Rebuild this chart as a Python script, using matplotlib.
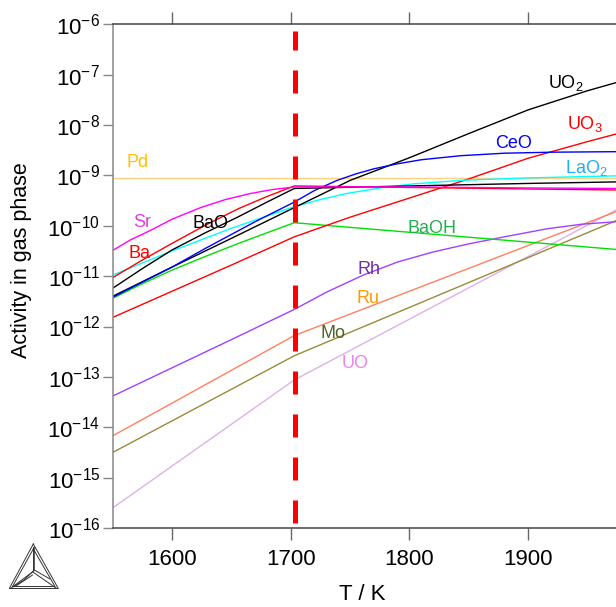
import matplotlib
matplotlib.use('Agg')
import matplotlib.pyplot as plt
from matplotlib.lines import Line2D

plt.rcParams['font.family'] = ['Liberation Sans', 'DejaVu Sans']
plt.rcParams['mathtext.fontset'] = 'custom'
plt.rcParams['mathtext.rm'] = 'Liberation Sans'
plt.rcParams['mathtext.it'] = 'Liberation Sans:italic'
plt.rcParams['mathtext.bf'] = 'Liberation Sans:bold'

# Temperature of the vertical marker line (K)
T_REF = 1703.5

# Temperature (K) and log10 of the activity
T_pd = [1550, 1974]
Pd = [-9.06, -9.06]

T_sr = [1550, 1565, 1582, 1600, 1624, 1645, 1666, 1685, 1703, 1800, 1900, 1974]
Sr = [-10.49, -10.28, -10.09, -9.87, -9.64, -9.48, -9.36, -9.28, -9.23, -9.23, -9.25, -9.26]

T_ba = [1550, 1575, 1600, 1628, 1656, 1680, 1703, 1800, 1900, 1974]
Ba = [-11.03, -10.68, -10.35, -9.99, -9.66, -9.42, -9.21, -9.24, -9.27, -9.29]

T_bao = [1550, 1575, 1600, 1628, 1656, 1680, 1703, 1800, 1900, 1974]
BaO = [-11.24, -10.85, -10.48, -10.14, -9.82, -9.53, -9.26, -9.21, -9.16, -9.13]

T_lao2 = [1550, 1600, 1650, 1703, 1725, 1747, 1775, 1803, 1843, 1900, 1974]
LaO2 = [-10.98, -10.50, -10.05, -9.62, -9.48, -9.36, -9.25, -9.17, -9.10, -9.05, -9.01]

T_ceo = [1550, 1600, 1628, 1670, 1703, 1720, 1739, 1755, 1770, 1790, 1810, 1843, 1880, 1920, 1974]
CeO = [-11.42, -10.82, -10.45, -9.92, -9.53, -9.30, -9.10, -8.97, -8.87, -8.77, -8.69,
       -8.61, -8.56, -8.54, -8.53]

T_uo2 = [1550, 1600, 1650, 1703, 1750, 1800, 1850, 1900, 1950, 1974]
UO2 = [-11.40, -10.82, -10.25, -9.64, -9.10, -8.65, -8.17, -7.70, -7.32, -7.16]

T_uo3 = [1550, 1600, 1650, 1703, 1750, 1800, 1850, 1900, 1950, 1974]
UO3 = [-11.82, -11.30, -10.78, -10.22, -9.83, -9.45, -9.07, -8.66, -8.33, -8.18]

T_baoh = [1550, 1575, 1600, 1628, 1656, 1680, 1703, 1974]
BaOH = [-11.44, -11.15, -10.88, -10.61, -10.35, -10.14, -9.94, -10.47]

T_rh = [1550, 1600, 1650, 1703, 1730, 1761, 1790, 1820, 1850, 1880, 1916, 1945, 1974]
Rh = [-13.38, -12.82, -12.26, -11.66, -11.32, -10.98, -10.72, -10.52, -10.36, -10.22,
      -10.06, -9.97, -9.92]

T_ru = [1550, 1703, 1974]
Ru = [-14.17, -12.18, -9.72]

T_mo = [1550, 1703, 1974]
Mo = [-14.50, -12.58, -9.90]

T_uo = [1550, 1703, 1974]
UO = [-15.60, -13.06, -9.69]

# (temperatures, log10 activity, line colour) for every species
curves = [
    (T_pd, Pd, '#FFD080'),
    (T_uo, UO, '#E0B0E8'),
    (T_mo, Mo, '#9A8A3A'),
    (T_ru, Ru, '#FF8060'),
    (T_rh, Rh, '#A040FF'),
    (T_baoh, BaOH, '#00E000'),
    (T_uo3, UO3, '#FF0000'),
    (T_lao2, LaO2, '#00FFFF'),
    (T_uo2, UO2, '#000000'),
    (T_ceo, CeO, '#0000FF'),
    (T_bao, BaO, '#000000'),
    (T_ba, Ba, '#FF0000'),
    (T_sr, Sr, '#FF00FF'),
]

# Label text, left x (K), baseline log10 activity, colour
labels = [
    ('Pd', 1562, -8.83, '#FFC000'),
    ('Sr', 1567, -10.02, '#E040E0'),
    ('Ba', 1563, -10.65, '#FF0000'),
    ('BaO', 1617, -10.04, '#000000'),
    ('UO$_2$', 1917, -7.27, '#000000'),
    ('UO$_3$', 1933, -8.07, '#FF0000'),
    ('CeO', 1872, -8.45, '#0000FF'),
    ('LaO$_2$', 1931, -8.96, '#20B0F0'),
    ('BaOH', 1798, -10.15, '#20B050'),
    ('Rh', 1756, -10.95, '#7030A0'),
    ('Ru', 1755, -11.54, '#FF9900'),
    ('Mo', 1725, -12.22, '#4F6228'),
    ('UO', 1743, -12.83, '#EE82EE'),
]

fig = plt.figure(figsize=(6.16, 6.07), dpi=100)
ax = fig.add_axes([0.183, 0.1301, 0.817, 0.830])

for T, la, col in curves:
    ax.plot(T, [10.0 ** v for v in la], color=col, lw=1.0)

for txt, tx, ty, col in labels:
    ax.text(tx, 10.0 ** ty, txt, color=col, fontsize=13, ha='left', va='baseline')

# Thick red dashed marker line
ax.axvline(T_REF, ymin=0.01, ymax=0.986, color='#FF0000', lw=3.6,
           dashes=(4.6, 4.0))

ax.set_yscale('log')
ax.set_xlim(1550, 1974)
ax.set_ylim(1e-16, 1e-6)
ax.set_xticks([1600, 1700, 1800, 1900])
ax.set_yticks([10.0 ** k for k in range(-16, -5)])
ax.minorticks_off()

ax.spines['right'].set_visible(False)
ax.spines['left'].set_color('#888888')
ax.spines['bottom'].set_color('#444444')
ax.spines['top'].set_color('#444444')
for s in ['left', 'bottom', 'top']:
    ax.spines[s].set_linewidth(1.1)

ax.tick_params(axis='x', which='both', direction='out', top=True, length=8.5,
               width=1.0, color='#666666', pad=6.5, labelsize=16)
ax.tick_params(axis='y', which='both', direction='out', length=7.5,
               width=1.0, color='#888888', pad=1.5, labelsize=16)

fig.text(22 / 616, 1 - 260 / 607, 'Activity in gas phase', rotation=90,
         ha='center', va='center', fontsize=15.5)
fig.text(362 / 616, 1 - 594 / 607, 'T / K', ha='center', va='center', fontsize=16)

# Small triangle logo in the lower left corner (pixel coordinates)
W, H = 616.0, 607.0
def seg(pts):
    fig.add_artist(Line2D([p[0] / W for p in pts], [1 - p[1] / H for p in pts],
                          transform=fig.transFigure, color='#333333', lw=0.7))

seg([(33.3, 544), (9.3, 588.5), (58.3, 588.5), (33.3, 544)])
seg([(33.3, 549), (12.5, 586.5), (55, 586.5), (33.3, 549)])
seg([(32.5, 547), (32.5, 572)])
seg([(34.3, 547), (34.3, 570), (50, 579)])
seg([(32.5, 572), (11, 588)])
seg([(34.3, 573), (56, 588)])
seg([(32.5, 575), (16, 586)])
seg([(34.3, 570), (24, 580), (13, 587)])

fig.savefig('out.png', dpi=100)
